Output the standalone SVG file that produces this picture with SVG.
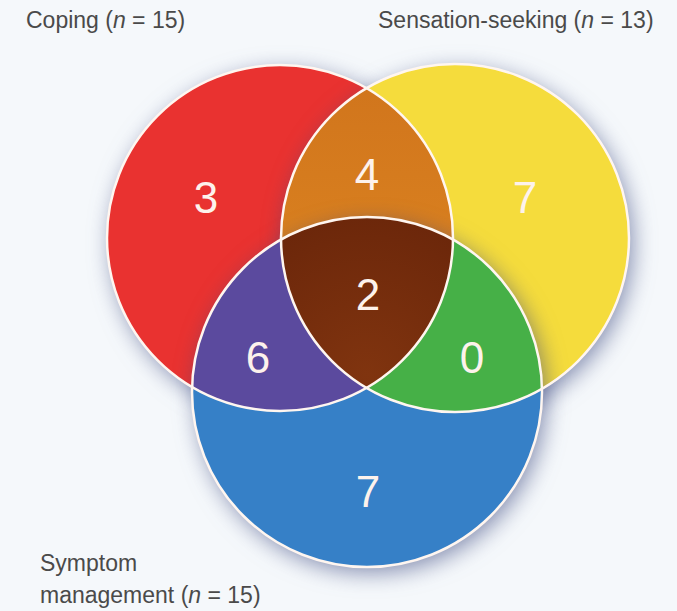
<svg xmlns="http://www.w3.org/2000/svg" width="677" height="611" viewBox="0 0 677 611">
  <defs>
    <style>
      .lbl { font-family: "Liberation Sans", Arial, sans-serif; font-size: 23px; fill: #4a4a4a; }
      .num { font-family: "Liberation Sans", Arial, sans-serif; font-size: 44px; fill: #fdf2ec; text-anchor: middle; }
      .edge { fill: none; stroke: #fff6f0; stroke-width: 2.5; }
    </style>
    <filter id="sh" x="-30%" y="-30%" width="160%" height="160%" color-interpolation-filters="sRGB">
      <feGaussianBlur in="SourceAlpha" stdDeviation="11" result="blur"/>
      <feOffset in="blur" dx="4" dy="6" result="b"/>
      <feFlood flood-color="#3c4a80" flood-opacity="0.6" result="f"/>
      <feComposite in="f" in2="b" operator="in" result="s"/>
      <feMerge><feMergeNode in="s"/><feMergeNode in="SourceGraphic"/></feMerge>
    </filter>
    <clipPath id="cRed"><circle cx="280" cy="238" r="173"/></clipPath>
    <clipPath id="cYel"><circle cx="455" cy="238" r="174"/></clipPath>
    <radialGradient id="gBrown" cx="0.5" cy="0.45" r="0.6">
      <stop offset="0" stop-color="#80340f"/>
      <stop offset="1" stop-color="#662309"/>
    </radialGradient>
    <linearGradient id="gOrange" x1="0" y1="0" x2="0" y2="1">
      <stop offset="0" stop-color="#d0741c"/>
      <stop offset="1" stop-color="#e08a22"/>
    </linearGradient>
  </defs>
  <rect x="0" y="0" width="677" height="611" fill="#f5f8fb"/>

  <g id="coping">
    <circle cx="280" cy="238" r="173" fill="#e93230" filter="url(#sh)"/>
  </g>
  <g id="sensation">
    <circle cx="455" cy="238" r="174" fill="#f5dc3c" filter="url(#sh)"/>
  </g>
  <g id="coping-sensation">
    <circle cx="455" cy="238" r="174" fill="url(#gOrange)" clip-path="url(#cRed)"/>
  </g>
  <g id="symptom">
    <circle cx="367" cy="392" r="175" fill="#3680c7" filter="url(#sh)"/>
  </g>
  <g id="coping-symptom">
    <circle cx="367" cy="392" r="175" fill="#5b4a9e" clip-path="url(#cRed)"/>
  </g>
  <g id="sensation-symptom">
    <circle cx="367" cy="392" r="175" fill="#46b047" clip-path="url(#cYel)"/>
  </g>
  <g id="all-three" clip-path="url(#cRed)">
    <circle cx="367" cy="392" r="175" fill="url(#gBrown)" clip-path="url(#cYel)"/>
  </g>

  <g id="outlines">
    <circle class="edge" cx="280" cy="238" r="173"/>
    <circle class="edge" cx="455" cy="238" r="174"/>
    <circle class="edge" cx="367" cy="392" r="175"/>
  </g>

  <g id="counts">
    <text class="num" x="206" y="213">3</text>
    <text class="num" x="367" y="190">4</text>
    <text class="num" x="525" y="213">7</text>
    <text class="num" x="368" y="310">2</text>
    <text class="num" x="258" y="373">6</text>
    <text class="num" x="472" y="373">0</text>
    <text class="num" x="368" y="507">7</text>
  </g>

  <g id="labels">
    <text class="lbl" x="26" y="28">Coping (<tspan font-style="italic">n</tspan> = 15)</text>
    <text class="lbl" x="378" y="28">Sensation-seeking (<tspan font-style="italic">n</tspan> = 13)</text>
    <text class="lbl" x="40" y="571">Symptom</text>
    <text class="lbl" x="40" y="603">management (<tspan font-style="italic">n</tspan> = 15)</text>
  </g>
</svg>
